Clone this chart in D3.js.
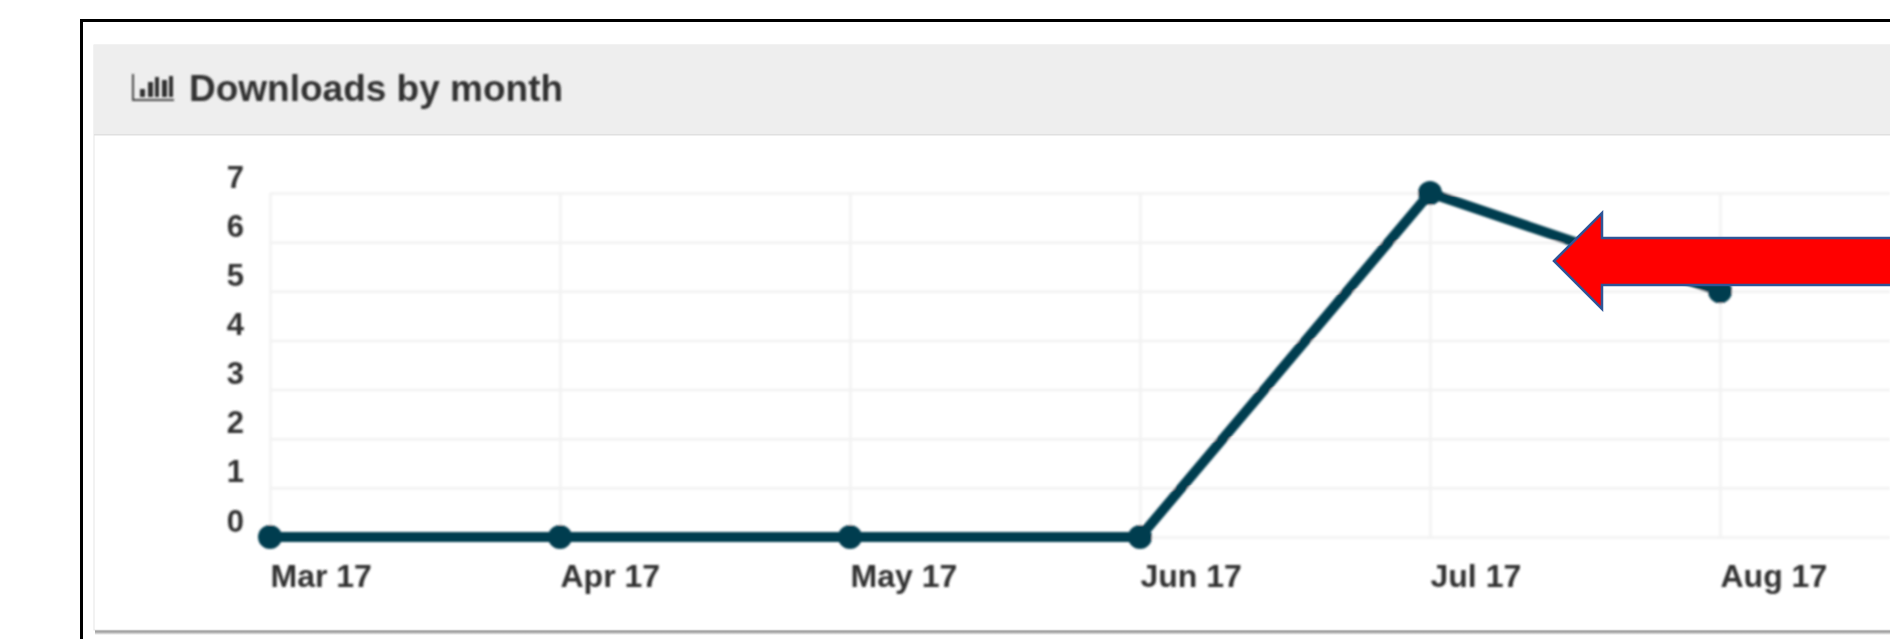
<!DOCTYPE html>
<html lang="en">
<head>
  <meta charset="UTF-8">
  <title>Downloads by month</title>
  <script src="https://d3js.org/d3.v7.min.js"></script>
  <style>
    html, body { margin: 0; padding: 0; background: #fff; overflow: hidden; }
    svg { display: block; }
    text { font-family: "Liberation Sans", Arial, sans-serif; font-weight: bold; fill: #333; }
  </style>
</head>
<body>
<svg></svg>
<script>
  const months = ['Mar 17', 'Apr 17', 'May 17', 'Jun 17', 'Jul 17', 'Aug 17']
  const downloads = [0, 0, 0, 0, 7, 5]
  const yTicks = [0, 1, 2, 3, 4, 5, 6, 7]
  const title = 'Downloads by month'

  const width = 1890, height = 639
  const margin = {top: 193, left: 270, bottom: 537}
  const lineColor = '#003e50'
  const gridColor = '#f2f2f2'

  const svg = d3.select('svg')
      .attr('width', width)
      .attr('height', height)
      .attr('viewBox', [0, 0, width, height])

  const defs = svg.append('defs')
  defs.append('filter').attr('id', 'soft')
      .append('feGaussianBlur').attr('stdDeviation', 0.8)
  defs.append('linearGradient').attr('id', 'shadow').attr('x1', 0).attr('x2', 0).attr('y1', 0).attr('y2', 1)
      .selectAll('stop')
      .data([['0%', '#8c8c8c'], ['50%', '#b5b5b5'], ['100%', '#fff']])
      .join('stop')
      .attr('offset', d => d[0])
      .attr('stop-color', d => d[1])

  //outer frame, only top and left fall inside the picture
  svg.append('path')
      .attr('d', `M${width},20.5H81.5V${height}`)
      .attr('fill', 'none')
      .attr('stroke', '#000')
      .attr('stroke-width', 3)

  //card, its right side is cut off by the picture
  svg.append('rect').attr('x', 95).attr('y', 630).attr('width', width - 95).attr('height', 5).attr('fill', 'url(#shadow)')
  svg.append('rect').attr('x', 94).attr('y', 45).attr('width', width).attr('height', 585)
      .attr('fill', '#fff').attr('stroke', '#e6e6e6').attr('stroke-width', 1)
  svg.append('rect').attr('x', 94).attr('y', 45).attr('width', width - 94).attr('height', 89).attr('fill', '#eee')
  svg.append('rect').attr('x', 94).attr('y', 134).attr('width', width - 94).attr('height', 1.5).attr('fill', '#e0e0e0')

  //header
  const head = svg.append('g').attr('filter', 'url(#soft)')
  const icon = head.append('g').attr('transform', 'translate(132,74)')
  icon.append('path').attr('d', 'M1,0V26H42').attr('fill', 'none').attr('stroke', '#444').attr('stroke-width', 2)
  icon.selectAll('rect')
      .data([[8, 15, 5], [16, 8, 5], [23, 3, 4], [30, 6, 5], [37, 2, 4]])
      .join('rect')
      .attr('x', d => d[0])
      .attr('y', d => d[1])
      .attr('width', d => d[2])
      .attr('height', d => 23 - d[1])
      .attr('fill', '#333')
  head.append('text')
      .attr('x', 189)
      .attr('y', 101)
      .attr('font-size', 37)
      .text(title)

  const x = d3.scalePoint()
      .domain(months)
      .range([margin.left, 1720])

  const y = d3.scaleLinear()
      .domain([0, 7])
      .range([margin.bottom, margin.top])

  const plot = svg.append('g').attr('filter', 'url(#soft)')

  //x axis and vertical grid
  const xAxis = plot.append('g')
      .attr('transform', `translate(0,${margin.bottom})`)
      .call(d3.axisBottom(x).tickSize(margin.top - margin.bottom).tickSizeOuter(0).tickPadding(0))
  xAxis.select('.domain').remove()
  xAxis.selectAll('line').attr('stroke', gridColor).attr('stroke-width', 2.5)
  xAxis.selectAll('text')
      .attr('text-anchor', 'start')
      .attr('font-size', 32)
      .attr('dy', 0)
      .attr('y', 50)

  //y axis and horizontal grid
  const yAxis = plot.append('g')
      .attr('transform', `translate(${margin.left},0)`)
      .call(d3.axisLeft(y).tickValues(yTicks).tickFormat(d3.format('d')).tickSize(margin.left - width).tickSizeOuter(0))
  yAxis.select('.domain').remove()
  yAxis.selectAll('line').attr('stroke', gridColor).attr('stroke-width', 2.5)
  yAxis.selectAll('text')
      .attr('text-anchor', 'end')
      .attr('font-size', 31)
      .attr('dy', 0)
      .attr('x', -26)
      .attr('y', -6)

  //line and points
  const line = d3.line()
      .x((d, i) => x(months[i]))
      .y(d => y(d))

  plot.append('path')
      .datum(downloads)
      .attr('d', line)
      .attr('fill', 'none')
      .attr('stroke', lineColor)
      .attr('stroke-width', 10)
      .attr('stroke-linejoin', 'round')

  plot.selectAll('circle')
      .data(downloads)
      .join('circle')
      .attr('cx', (d, i) => x(months[i]))
      .attr('cy', d => y(d))
      .attr('r', 12)
      .attr('fill', lineColor)

  //red callout arrow, runs off the right edge
  const arrow = [[1554, 261], [1602, 213], [1602, 238], [1892, 238], [1892, 285], [1602, 285], [1602, 309]]
  svg.append('polygon')
      .attr('points', arrow.join(' '))
      .attr('fill', '#ff0000')
      .attr('stroke', '#2f5597')
      .attr('stroke-width', 2.5)
</script>
</body>
</html>
